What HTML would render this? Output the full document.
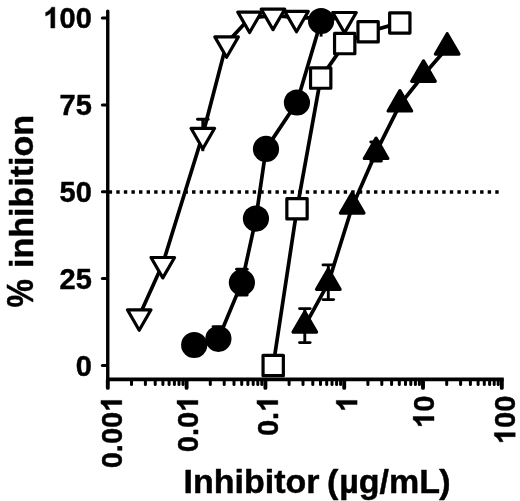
<!DOCTYPE html><html><head><meta charset="utf-8"><style>html,body{margin:0;padding:0;background:#fff}svg{display:block;will-change:transform}text{font-family:"Liberation Sans",sans-serif;font-weight:bold;fill:#000;stroke:#000;stroke-width:0.45px;stroke-linejoin:round}</style></head><body>
<svg width="520" height="501" viewBox="0 0 520 501">
<rect width="520" height="501" fill="#fff"/>
<line x1="108.7" y1="192.0" x2="500" y2="192.0" stroke="#000" stroke-width="3.4" stroke-dasharray="3.4 4.18"/>
<g stroke="#000" fill="none" stroke-linecap="butt">
<line x1="107.75" y1="11.1" x2="107.75" y2="381.0" stroke-width="3.4" stroke-linecap="round"/>
<line x1="106.05" y1="379.4" x2="503.8" y2="379.4" stroke-width="3.6"/>
<line x1="102.4" y1="365.5" x2="107" y2="365.5" stroke-width="3" stroke-linecap="round"/>
<line x1="102.4" y1="278.6" x2="107" y2="278.6" stroke-width="3" stroke-linecap="round"/>
<line x1="102.4" y1="191.8" x2="107" y2="191.8" stroke-width="3" stroke-linecap="round"/>
<line x1="102.4" y1="104.9" x2="107" y2="104.9" stroke-width="3" stroke-linecap="round"/>
<line x1="102.4" y1="18.0" x2="107" y2="18.0" stroke-width="3" stroke-linecap="round"/>
<line x1="107.8" y1="380.5" x2="107.8" y2="387.9" stroke-width="3.9" stroke-linecap="round"/>
<line x1="131.5" y1="380.5" x2="131.5" y2="384.4" stroke-width="3" stroke-linecap="round"/>
<line x1="145.4" y1="380.5" x2="145.4" y2="384.4" stroke-width="3" stroke-linecap="round"/>
<line x1="155.2" y1="380.5" x2="155.2" y2="384.4" stroke-width="3" stroke-linecap="round"/>
<line x1="162.9" y1="380.5" x2="162.9" y2="384.4" stroke-width="3" stroke-linecap="round"/>
<line x1="169.1" y1="380.5" x2="169.1" y2="384.4" stroke-width="3" stroke-linecap="round"/>
<line x1="174.4" y1="380.5" x2="174.4" y2="384.4" stroke-width="3" stroke-linecap="round"/>
<line x1="179.0" y1="380.5" x2="179.0" y2="384.4" stroke-width="3" stroke-linecap="round"/>
<line x1="183.0" y1="380.5" x2="183.0" y2="384.4" stroke-width="3" stroke-linecap="round"/>
<line x1="186.6" y1="380.5" x2="186.6" y2="387.9" stroke-width="3.9" stroke-linecap="round"/>
<line x1="210.3" y1="380.5" x2="210.3" y2="384.4" stroke-width="3" stroke-linecap="round"/>
<line x1="224.2" y1="380.5" x2="224.2" y2="384.4" stroke-width="3" stroke-linecap="round"/>
<line x1="234.0" y1="380.5" x2="234.0" y2="384.4" stroke-width="3" stroke-linecap="round"/>
<line x1="241.7" y1="380.5" x2="241.7" y2="384.4" stroke-width="3" stroke-linecap="round"/>
<line x1="247.9" y1="380.5" x2="247.9" y2="384.4" stroke-width="3" stroke-linecap="round"/>
<line x1="253.2" y1="380.5" x2="253.2" y2="384.4" stroke-width="3" stroke-linecap="round"/>
<line x1="257.8" y1="380.5" x2="257.8" y2="384.4" stroke-width="3" stroke-linecap="round"/>
<line x1="261.8" y1="380.5" x2="261.8" y2="384.4" stroke-width="3" stroke-linecap="round"/>
<line x1="265.4" y1="380.5" x2="265.4" y2="387.9" stroke-width="3.9" stroke-linecap="round"/>
<line x1="289.1" y1="380.5" x2="289.1" y2="384.4" stroke-width="3" stroke-linecap="round"/>
<line x1="303.0" y1="380.5" x2="303.0" y2="384.4" stroke-width="3" stroke-linecap="round"/>
<line x1="312.8" y1="380.5" x2="312.8" y2="384.4" stroke-width="3" stroke-linecap="round"/>
<line x1="320.5" y1="380.5" x2="320.5" y2="384.4" stroke-width="3" stroke-linecap="round"/>
<line x1="326.7" y1="380.5" x2="326.7" y2="384.4" stroke-width="3" stroke-linecap="round"/>
<line x1="332.0" y1="380.5" x2="332.0" y2="384.4" stroke-width="3" stroke-linecap="round"/>
<line x1="336.6" y1="380.5" x2="336.6" y2="384.4" stroke-width="3" stroke-linecap="round"/>
<line x1="340.6" y1="380.5" x2="340.6" y2="384.4" stroke-width="3" stroke-linecap="round"/>
<line x1="344.2" y1="380.5" x2="344.2" y2="387.9" stroke-width="3.9" stroke-linecap="round"/>
<line x1="367.9" y1="380.5" x2="367.9" y2="384.4" stroke-width="3" stroke-linecap="round"/>
<line x1="381.8" y1="380.5" x2="381.8" y2="384.4" stroke-width="3" stroke-linecap="round"/>
<line x1="391.6" y1="380.5" x2="391.6" y2="384.4" stroke-width="3" stroke-linecap="round"/>
<line x1="399.3" y1="380.5" x2="399.3" y2="384.4" stroke-width="3" stroke-linecap="round"/>
<line x1="405.5" y1="380.5" x2="405.5" y2="384.4" stroke-width="3" stroke-linecap="round"/>
<line x1="410.8" y1="380.5" x2="410.8" y2="384.4" stroke-width="3" stroke-linecap="round"/>
<line x1="415.4" y1="380.5" x2="415.4" y2="384.4" stroke-width="3" stroke-linecap="round"/>
<line x1="419.4" y1="380.5" x2="419.4" y2="384.4" stroke-width="3" stroke-linecap="round"/>
<line x1="423.0" y1="380.5" x2="423.0" y2="387.9" stroke-width="3.9" stroke-linecap="round"/>
<line x1="446.7" y1="380.5" x2="446.7" y2="384.4" stroke-width="3" stroke-linecap="round"/>
<line x1="460.6" y1="380.5" x2="460.6" y2="384.4" stroke-width="3" stroke-linecap="round"/>
<line x1="470.4" y1="380.5" x2="470.4" y2="384.4" stroke-width="3" stroke-linecap="round"/>
<line x1="478.1" y1="380.5" x2="478.1" y2="384.4" stroke-width="3" stroke-linecap="round"/>
<line x1="484.3" y1="380.5" x2="484.3" y2="384.4" stroke-width="3" stroke-linecap="round"/>
<line x1="489.6" y1="380.5" x2="489.6" y2="384.4" stroke-width="3" stroke-linecap="round"/>
<line x1="494.2" y1="380.5" x2="494.2" y2="384.4" stroke-width="3" stroke-linecap="round"/>
<line x1="498.2" y1="380.5" x2="498.2" y2="384.4" stroke-width="3" stroke-linecap="round"/>
<line x1="501.8" y1="380.5" x2="501.8" y2="387.9" stroke-width="3.9" stroke-linecap="round"/>
</g>
<g transform="translate(91.8,376.0)"><text x="-16.13" y="0" font-size="29">0</text></g>
<g transform="translate(91.8,289.0)"><text x="-32.26" y="0" font-size="29">2</text><text x="-16.13" y="0" font-size="29">5</text></g>
<g transform="translate(91.8,202.0)"><text x="-32.26" y="0" font-size="29">5</text><text x="-16.13" y="0" font-size="29">0</text></g>
<g transform="translate(91.8,115.0)"><text x="-32.26" y="0" font-size="29">7</text><text x="-16.13" y="0" font-size="29">5</text></g>
<g transform="translate(91.8,28.0)"><path d="M805 0H524V1059Q370 915 161 846V1101Q271 1137 400 1237.5Q529 1338 577 1472H805Z" transform="translate(-48.39,0) scale(0.01416,-0.01416)" fill="#000" stroke="#000" stroke-width="31.8" stroke-linejoin="round"/><text x="-32.26" y="0" font-size="29">0</text><text x="-16.13" y="0" font-size="29">0</text></g>
<g transform="translate(121.8,395.7) rotate(-90)"><text x="-72.57" y="0" font-size="29">0</text><text x="-56.44" y="0" font-size="29">.</text><text x="-48.39" y="0" font-size="29">0</text><text x="-32.26" y="0" font-size="29">0</text><path d="M805 0H524V1059Q370 915 161 846V1101Q271 1137 400 1237.5Q529 1338 577 1472H805Z" transform="translate(-16.13,0) scale(0.01416,-0.01416)" fill="#000" stroke="#000" stroke-width="31.8" stroke-linejoin="round"/></g>
<g transform="translate(197.9,395.7) rotate(-90)"><text x="-56.44" y="0" font-size="29">0</text><text x="-40.31" y="0" font-size="29">.</text><text x="-32.26" y="0" font-size="29">0</text><path d="M805 0H524V1059Q370 915 161 846V1101Q271 1137 400 1237.5Q529 1338 577 1472H805Z" transform="translate(-16.13,0) scale(0.01416,-0.01416)" fill="#000" stroke="#000" stroke-width="31.8" stroke-linejoin="round"/></g>
<g transform="translate(277.8,395.7) rotate(-90)"><text x="-40.31" y="0" font-size="29">0</text><text x="-24.19" y="0" font-size="29">.</text><path d="M805 0H524V1059Q370 915 161 846V1101Q271 1137 400 1237.5Q529 1338 577 1472H805Z" transform="translate(-16.13,0) scale(0.01416,-0.01416)" fill="#000" stroke="#000" stroke-width="31.8" stroke-linejoin="round"/></g>
<g transform="translate(357.1,395.7) rotate(-90)"><path d="M805 0H524V1059Q370 915 161 846V1101Q271 1137 400 1237.5Q529 1338 577 1472H805Z" transform="translate(-16.13,0) scale(0.01416,-0.01416)" fill="#000" stroke="#000" stroke-width="31.8" stroke-linejoin="round"/></g>
<g transform="translate(434.0,395.7) rotate(-90)"><path d="M805 0H524V1059Q370 915 161 846V1101Q271 1137 400 1237.5Q529 1338 577 1472H805Z" transform="translate(-32.26,0) scale(0.01416,-0.01416)" fill="#000" stroke="#000" stroke-width="31.8" stroke-linejoin="round"/><text x="-16.13" y="0" font-size="29">0</text></g>
<g transform="translate(515.2,395.7) rotate(-90)"><path d="M805 0H524V1059Q370 915 161 846V1101Q271 1137 400 1237.5Q529 1338 577 1472H805Z" transform="translate(-48.39,0) scale(0.01416,-0.01416)" fill="#000" stroke="#000" stroke-width="31.8" stroke-linejoin="round"/><text x="-32.26" y="0" font-size="29">0</text><text x="-16.13" y="0" font-size="29">0</text></g>
<text x="183.5" y="493.2" font-size="34">Inhibitor <tspan dx="-1.8">(</tspan><tspan dx="0.8">µg/mL</tspan><tspan dx="-0.9">)</tspan></text>
<g transform="translate(32.7,307.2) rotate(-90)"><text transform="translate(-0.2,0.2) scale(0.94,1.1)" font-size="34">%</text><text x="39.2" y="0" font-size="34">inhibition</text></g>
<g>
<polyline points="139.2,316.0 162.8,263.7 202.8,134.5 226.6,43.1 249.6,18.3 273.0,15.4 296.5,17.6 344.5,18.7" fill="none" stroke="#000" stroke-width="3.7" stroke-linejoin="round"/>
<line x1="202.8" y1="119.3" x2="202.8" y2="151.2" stroke="#000" stroke-width="2.9"/><line x1="197.5" y1="119.3" x2="208.10000000000002" y2="119.3" stroke="#000" stroke-width="2.9" stroke-linecap="round"/>
<path d="M127.42,309.80 L150.98,309.80 L139.20,330.20 Z" fill="#fff" stroke="#000" stroke-width="3.2" stroke-linejoin="round"/>
<path d="M151.02,257.50 L174.58,257.50 L162.80,277.90 Z" fill="#fff" stroke="#000" stroke-width="3.2" stroke-linejoin="round"/>
<path d="M191.02,128.30 L214.58,128.30 L202.80,148.70 Z" fill="#fff" stroke="#000" stroke-width="3.2" stroke-linejoin="round"/>
<path d="M214.82,36.90 L238.38,36.90 L226.60,57.30 Z" fill="#fff" stroke="#000" stroke-width="3.2" stroke-linejoin="round"/>
<path d="M237.82,12.10 L261.38,12.10 L249.60,32.50 Z" fill="#fff" stroke="#000" stroke-width="3.2" stroke-linejoin="round"/>
<path d="M261.22,9.20 L284.78,9.20 L273.00,29.60 Z" fill="#fff" stroke="#000" stroke-width="3.2" stroke-linejoin="round"/>
<path d="M284.72,11.40 L308.28,11.40 L296.50,31.80 Z" fill="#fff" stroke="#000" stroke-width="3.2" stroke-linejoin="round"/>
<path d="M332.72,12.50 L356.28,12.50 L344.50,32.90 Z" fill="#fff" stroke="#000" stroke-width="3.2" stroke-linejoin="round"/>
</g>
<g>
<polyline points="194.2,345.0 218.4,338.8 241.9,282.4 255.9,218.6 266.0,148.9 296.9,102.5 321.1,21.0" fill="none" stroke="#000" stroke-width="3.7" stroke-linejoin="round"/>
<line x1="218.4" y1="326.6" x2="218.4" y2="338.8" stroke="#000" stroke-width="2.9"/><line x1="213.1" y1="326.6" x2="223.70000000000002" y2="326.6" stroke="#000" stroke-width="2.9" stroke-linecap="round"/>
<line x1="241.9" y1="269.3" x2="241.9" y2="295.0" stroke="#000" stroke-width="2.9"/><line x1="236.6" y1="269.3" x2="247.20000000000002" y2="269.3" stroke="#000" stroke-width="2.9" stroke-linecap="round"/><line x1="236.6" y1="295.0" x2="247.20000000000002" y2="295.0" stroke="#000" stroke-width="2.9" stroke-linecap="round"/>
<line x1="321.1" y1="21" x2="321.1" y2="36.6" stroke="#000" stroke-width="2.9"/>
<circle cx="194.2" cy="345" r="13.1" fill="#000"/>
<circle cx="218.4" cy="338.8" r="13.1" fill="#000"/>
<circle cx="241.9" cy="282.4" r="13.1" fill="#000"/>
<circle cx="255.95" cy="218.55" r="13.1" fill="#000"/>
<circle cx="266.0" cy="148.9" r="13.1" fill="#000"/>
<circle cx="296.95" cy="102.5" r="13.1" fill="#000"/>
<circle cx="321.1" cy="21" r="13.1" fill="#000"/>
</g>
<g>
<polyline points="273.2,365.5 297.0,208.8 320.7,78.1 344.7,43.6 368.1,31.8 399.8,22.9" fill="none" stroke="#000" stroke-width="3.7" stroke-linejoin="round"/>
<rect x="263.05" y="355.35" width="20.3" height="20.3" fill="#fff" stroke="#000" stroke-width="3.2" stroke-linejoin="round"/>
<rect x="286.85" y="198.60" width="20.3" height="20.3" fill="#fff" stroke="#000" stroke-width="3.2" stroke-linejoin="round"/>
<rect x="310.55" y="67.95" width="20.3" height="20.3" fill="#fff" stroke="#000" stroke-width="3.2" stroke-linejoin="round"/>
<rect x="334.55" y="33.45" width="20.3" height="20.3" fill="#fff" stroke="#000" stroke-width="3.2" stroke-linejoin="round"/>
<rect x="357.95" y="21.65" width="20.3" height="20.3" fill="#fff" stroke="#000" stroke-width="3.2" stroke-linejoin="round"/>
<rect x="389.65" y="12.80" width="20.3" height="20.3" fill="#fff" stroke="#000" stroke-width="3.2" stroke-linejoin="round"/>
</g>
<g>
<polyline points="304.8,325.8 328.3,283.1 352.2,206.8 376.1,152.2 399.9,104.7 423.5,75.0 447.2,47.8" fill="none" stroke="#000" stroke-width="3.7" stroke-linejoin="round"/>
<line x1="304.8" y1="308.6" x2="304.8" y2="342.6" stroke="#000" stroke-width="2.9"/><line x1="299.5" y1="308.6" x2="310.1" y2="308.6" stroke="#000" stroke-width="2.9" stroke-linecap="round"/><line x1="299.5" y1="342.6" x2="310.1" y2="342.6" stroke="#000" stroke-width="2.9" stroke-linecap="round"/>
<line x1="328.3" y1="264.9" x2="328.3" y2="299.6" stroke="#000" stroke-width="2.9"/><line x1="323.0" y1="264.9" x2="333.6" y2="264.9" stroke="#000" stroke-width="2.9" stroke-linecap="round"/><line x1="323.0" y1="299.6" x2="333.6" y2="299.6" stroke="#000" stroke-width="2.9" stroke-linecap="round"/>
<line x1="376.1" y1="142" x2="376.1" y2="161.0" stroke="#000" stroke-width="2.9"/><line x1="370.8" y1="142" x2="381.40000000000003" y2="142" stroke="#000" stroke-width="2.9" stroke-linecap="round"/><line x1="370.8" y1="161.0" x2="381.40000000000003" y2="161.0" stroke="#000" stroke-width="2.9" stroke-linecap="round"/>
<path d="M293.02,332.10 L316.58,332.10 L304.80,311.70 Z" fill="#000" stroke="#000" stroke-width="3.2" stroke-linejoin="round"/>
<path d="M316.52,289.40 L340.08,289.40 L328.30,269.00 Z" fill="#000" stroke="#000" stroke-width="3.2" stroke-linejoin="round"/>
<path d="M340.42,213.10 L363.98,213.10 L352.20,192.70 Z" fill="#000" stroke="#000" stroke-width="3.2" stroke-linejoin="round"/>
<path d="M364.32,158.50 L387.88,158.50 L376.10,138.10 Z" fill="#000" stroke="#000" stroke-width="3.2" stroke-linejoin="round"/>
<path d="M388.12,111.00 L411.68,111.00 L399.90,90.60 Z" fill="#000" stroke="#000" stroke-width="3.2" stroke-linejoin="round"/>
<path d="M411.72,81.30 L435.28,81.30 L423.50,60.90 Z" fill="#000" stroke="#000" stroke-width="3.2" stroke-linejoin="round"/>
<path d="M435.42,54.10 L458.98,54.10 L447.20,33.70 Z" fill="#000" stroke="#000" stroke-width="3.2" stroke-linejoin="round"/>
</g>
</svg></body></html>
